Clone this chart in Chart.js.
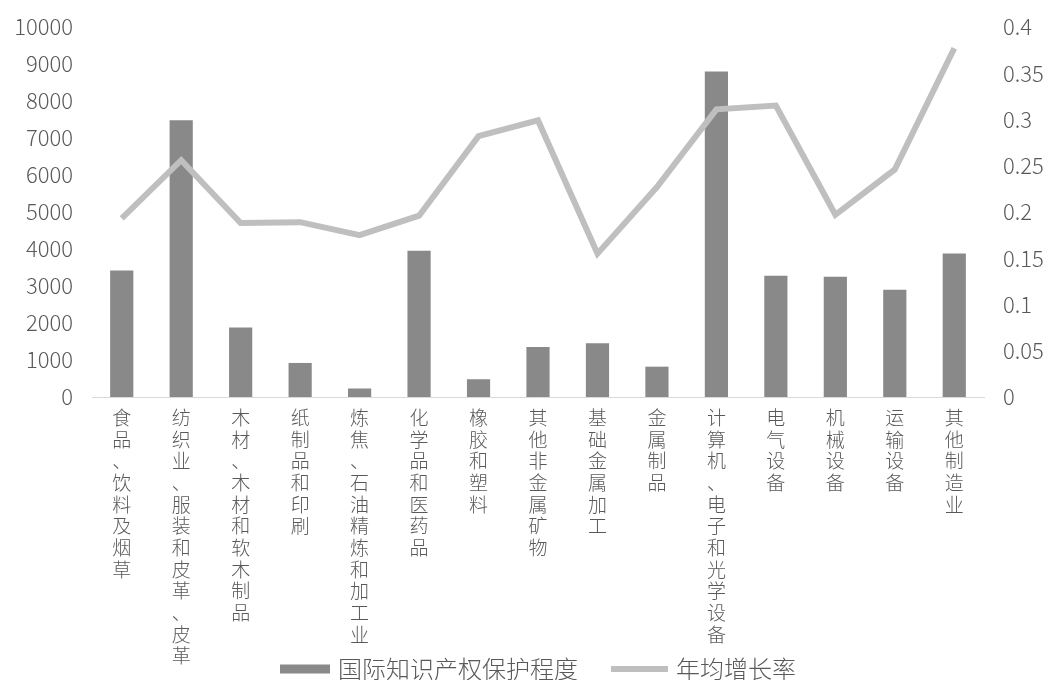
<!DOCTYPE html>
<html>
<head>
<meta charset="utf-8">
<script src="https://cdn.jsdelivr.net/npm/chart.js@4/dist/chart.umd.min.js"></script>
<style>
  html, body { margin: 0; padding: 0; background: #fff; }
  #wrap { width: 1048px; height: 680px; }
</style>
</head>
<body>
<div id="wrap"><canvas id="myChart" width="1048" height="680"></canvas></div>
<script>
// industries along the x axis
var industries = [
  "食品、饮料及烟草",
  "纺织业、服装和皮革、皮革",
  "木材、木材和软木制品",
  "纸制品和印刷",
  "炼焦、石油精炼和加工业",
  "化学品和医药品",
  "橡胶和塑料",
  "其他非金属矿物",
  "基础金属加工",
  "金属制品",
  "计算机、电子和光学设备",
  "电气设备",
  "机械设备",
  "运输设备",
  "其他制造业"
];

// bars, left axis
var ipProtection = [3420, 7480, 1880, 920, 230, 3950, 480, 1350, 1450, 820, 8800, 3280, 3250, 2900, 3880];

// line, right axis
var annualGrowth = [0.193, 0.256, 0.188, 0.189, 0.175, 0.196, 0.282, 0.299, 0.155, 0.227, 0.311, 0.315, 0.197, 0.246, 0.377];

var textColor = "#595959";
var fontFamily = "'Noto Sans CJK SC', 'Noto Sans', sans-serif";
var barColor = "#898989";
var lineColor = "#bfbfbf";

// one character per line so the labels read top to bottom
var stackedLabels = industries.map(function(name) { return name.split(""); });

// legend sits in the gap under the short labels, so draw it by hand
var bottomLegend = {
  id: "bottomLegend",
  afterDraw: function(c) {
    var g = c.ctx;
    var area = c.chartArea;
    var y = 669;
    var gap = 8, spacing = 33;
    var keys = [
      { w: 50, h: 9, ds: c.data.datasets[0] },
      { w: 57, h: 6, ds: c.data.datasets[1] }
    ];
    g.save();
    g.font = "300 24px " + fontFamily;
    g.textBaseline = "middle";
    var total = 0;
    keys.forEach(function(k, i) {
      k.tw = g.measureText(k.ds.label).width;
      total += k.w + gap + k.tw + (i ? spacing : 0);
    });
    var x = (area.left + area.right) / 2 - total / 2;
    keys.forEach(function(k) {
      g.fillStyle = k.ds.type === "line" ? k.ds.borderColor : k.ds.backgroundColor;
      g.fillRect(x, y - k.h / 2, k.w, k.h);
      x += k.w + gap;
      g.fillStyle = textColor;
      g.fillText(k.ds.label, x, y);
      x += k.tw + spacing;
    });
    g.restore();
  }
};

var ctx = document.getElementById("myChart").getContext("2d");
var chart = new Chart(ctx, {
  type: "bar",
  data: {
    labels: stackedLabels,
    datasets: [{
      type: "bar",
      label: "国际知识产权保护程度",
      data: ipProtection,
      backgroundColor: barColor,
      borderWidth: 0,
      yAxisID: "y",
      order: 1,
      barPercentage: 0.78,
      categoryPercentage: 0.5
    }, {
      type: "line",
      label: "年均增长率",
      data: annualGrowth,
      borderColor: lineColor,
      backgroundColor: lineColor,
      borderWidth: 6,
      pointRadius: 0,
      tension: 0,
      yAxisID: "y1",
      order: 0
    }]
  },
  plugins: [bottomLegend],
  options: {
    responsive: false,
    animation: false,
    layout: { padding: { top: 27, left: 0, right: 0, bottom: 0 } },
    plugins: {
      tooltip: { enabled: false },
      legend: { display: false }
    },
    scales: {
      x: {
        grid: { display: false, drawTicks: false },
        border: { color: "#d9d9d9", width: 1 },
        ticks: {
          color: textColor,
          font: { family: fontFamily, size: 19, weight: 300, lineHeight: 1.14 },
          maxRotation: 0,
          minRotation: 0,
          autoSkip: false,
          padding: 10
        },
        afterFit: function(scale) { scale.height = 283; }
      },
      y: {
        position: "left",
        min: 0,
        max: 10000,
        grid: { display: false, drawTicks: false },
        border: { display: false },
        ticks: {
          stepSize: 1000,
          color: textColor,
          font: { family: fontFamily, size: 22, weight: 300 },
          padding: 19,
          callback: function(v) { return String(v); }
        },
        afterFit: function(scale) {
          scale.width = 92;
          scale.paddingTop = 0;
          scale.paddingBottom = 0;
        }
      },
      y1: {
        position: "right",
        min: 0,
        max: 0.4,
        grid: { display: false, drawTicks: false },
        border: { display: false },
        ticks: {
          stepSize: 0.05,
          color: textColor,
          font: { family: fontFamily, size: 22, weight: 300 },
          padding: 19,
          callback: function(v) { return parseFloat(v.toFixed(2)).toString(); }
        },
        afterFit: function(scale) {
          scale.width = 64;
          scale.paddingTop = 0;
          scale.paddingBottom = 0;
        }
      }
    }
  }
});
</script>
</body>
</html>
